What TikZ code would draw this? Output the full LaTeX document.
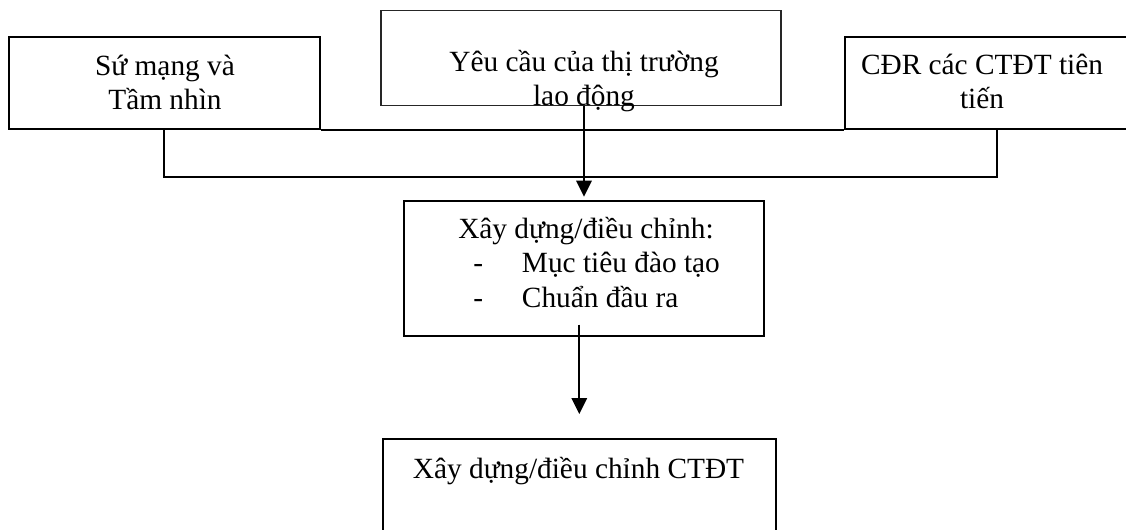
\documentclass[tikz,border=0pt]{standalone}
\usepackage{fontspec}
\setmainfont{Liberation Serif}
\usepackage{tikz}
\usetikzlibrary{arrows.meta}

\tikzset{
    box/.style={draw=black, line width=1.5pt, inner sep=0pt},
    softbox/.style={draw=black!85, line width=1.2pt, inner sep=0pt},
    wire/.style={draw=black, line width=1.5pt},
    lbl/.style={font=\fontsize{22}{25.9}\selectfont, align=center, inner sep=0pt}
}

\begin{document}
\begin{tikzpicture}[
    x=0.75pt, y=-0.75pt,
    >={Triangle[length=12pt, width=11.5pt]}
]

    \useasboundingbox (0,0) rectangle (1126,530);

    % top row
    \node[box, minimum width=233.6pt, minimum height=69.5pt]
        (mission) at (164.3,83) {};
    \node[softbox, minimum width=300pt, minimum height=71.1pt]
        (labour) at (580.7,58.1) {};
    \node[box, minimum width=227.7pt, minimum height=69.5pt]
        (advanced) at (996.8,83) {};

    % middle and bottom
    \node[box, minimum width=270pt, minimum height=100.9pt]
        (goals) at (584,268.3) {};
    \node[box, minimum width=295pt, minimum height=105pt]
        (ctdt) at (579.3,509) {};

    % texts (base = last line)
    \node[lbl, anchor=base] (mission-t) at (165,110) {Sứ mạng và\\Tầm nhìn};
    \node[lbl, anchor=base] (labour-t) at (584,106) {Yêu cầu của thị trường\\lao động};
    \node[lbl, anchor=base] (advanced-t) at (982,109) {CĐR các CTĐT tiên\\tiến};
    \node[lbl, anchor=base west, align=left] (goals-t) at (458,307.3) {%
        Xây dựng/điều chỉnh:\\
        \hspace*{11.25pt}\makebox[36.5pt][l]{-}Mục tiêu đào tạo\\
        \hspace*{11.25pt}\makebox[36.5pt][l]{-}Chuẩn đầu ra};
    \node[lbl, anchor=base] (ctdt-t) at (578.5,478) {Xây dựng/điều chỉnh CTĐT};

    % bracket under the top row
    \coordinate (brk) at (0,177.5);
    \draw[wire] (mission.south east) -- (advanced.south west);
    \draw[wire] (mission.south) -- (mission.south |- brk) -| (advanced.south);

    % arrows
    \draw[
        ->,
        wire,
        shorten >=2.5pt
    ] (goals.north |- labour.south) -- (goals.north);

    \coordinate (tip2) at (579.3,414);
    \draw[
        ->,
        wire
    ] ([yshift=9pt]goals.south -| tip2) -- (tip2);

\end{tikzpicture}
\end{document}
